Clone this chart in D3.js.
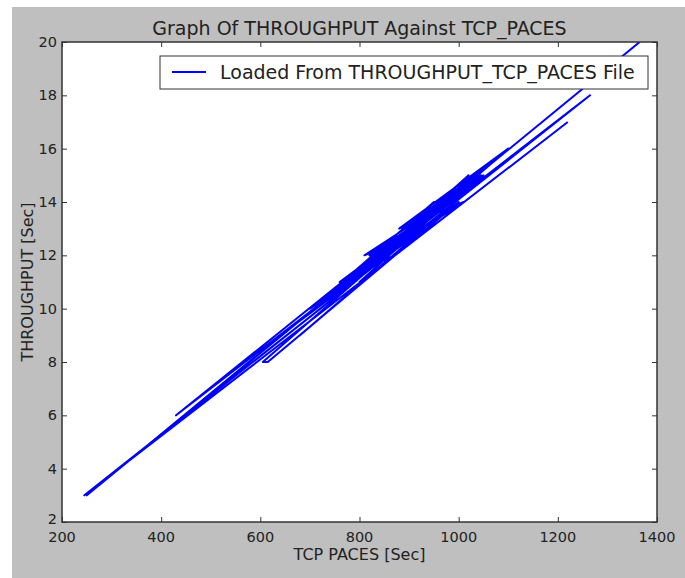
<!DOCTYPE html>
<html>
<head>
<meta charset="utf-8">
<script src="https://cdn.jsdelivr.net/npm/d3@7"></script>
<style>
  body { margin: 0; background: #fff; }
  text { font-family: "DejaVu Sans", sans-serif; fill: #222; }
</style>
</head>
<body>
<div id="chart"></div>
<script>
// Values (throughput vs tcp paces, plotted in file order).
var tcpPaces = [1220, 245, 1265, 430, 1100, 605, 615, 1000, 640, 930, 680, 870, 760,
                1050, 700, 850, 780, 980, 820, 960, 790, 1020, 840, 920, 800, 1040,
                765, 950, 855, 1030, 900, 985, 775, 1045, 830, 975, 810, 935, 845,
                1010, 880, 1100, 250, 1365];
var throughput = [17, 3, 18, 6, 16, 8, 8, 14, 9, 13, 9, 12, 11,
                  15, 10, 12, 11, 14, 12, 14, 11, 15, 12, 13, 11, 15,
                  11, 14, 12, 15, 13, 14, 11, 15, 12, 14, 12, 13, 12,
                  14, 13, 16, 3, 20];
var xTicks = [200, 400, 600, 800, 1000, 1200, 1400];
var yTicks = [2, 4, 6, 8, 10, 12, 14, 16, 18, 20];
var legendLabel = 'Loaded From THROUGHPUT_TCP_PACES File';

function main() {
  var width = 685, height = 578;
  var margin = {left: 62, right: 28, top: 42, bottom: 56};
  var plotW = width - margin.left - margin.right;
  var plotH = height - margin.top - margin.bottom;

  var svg = d3.select('#chart').append('svg')
    .attr('width', width)
    .attr('height', height);

  // gray figure background
  svg.append('rect')
    .attr('x', 12).attr('y', 7)
    .attr('width', width - 12).attr('height', height - 7)
    .attr('fill', '#bfbfbf');

  var x = d3.scaleLinear().domain([200, 1400]).range([0, plotW]);
  var y = d3.scaleLinear().domain([2, 20]).range([plotH, 0]);

  var g = svg.append('g')
    .attr('transform', 'translate(' + margin.left + ',' + margin.top + ')');

  g.append('rect')
    .attr('width', plotW).attr('height', plotH)
    .attr('fill', '#fff');

  g.append('clipPath').attr('id', 'clip')
    .append('rect').attr('width', plotW).attr('height', plotH);

  var points = tcpPaces.map(function(v, i) { return [v, throughput[i]]; });
  var line = d3.line()
    .x(function(d) { return x(d[0]); })
    .y(function(d) { return y(d[1]); });

  g.append('path')
    .datum(points)
    .attr('clip-path', 'url(#clip)')
    .attr('d', line)
    .attr('fill', 'none')
    .attr('stroke', '#0000ff')
    .attr('stroke-width', 2)
    .attr('stroke-linejoin', 'round');

  // inward ticks on all four sides, matplotlib classic style
  var tickLen = 5;
  g.append('g')
    .attr('transform', 'translate(0,' + plotH + ')')
    .call(d3.axisTop(x).tickValues(xTicks).tickSize(tickLen).tickFormat(''))
    .call(function(s) { s.select('.domain').remove(); });
  g.append('g')
    .call(d3.axisBottom(x).tickValues(xTicks).tickSize(tickLen).tickFormat(''))
    .call(function(s) { s.select('.domain').remove(); });
  g.append('g')
    .call(d3.axisRight(y).tickValues(yTicks).tickSize(tickLen).tickFormat(''))
    .call(function(s) { s.select('.domain').remove(); });
  g.append('g')
    .attr('transform', 'translate(' + plotW + ',0)')
    .call(d3.axisLeft(y).tickValues(yTicks).tickSize(tickLen).tickFormat(''))
    .call(function(s) { s.select('.domain').remove(); });
  g.selectAll('.tick line').attr('stroke', '#333');

  // tick labels
  g.append('g').selectAll('text')
    .data(xTicks).enter().append('text')
    .attr('x', function(d) { return x(d); })
    .attr('y', plotH + 20)
    .attr('text-anchor', 'middle')
    .style('font-size', '14.5px')
    .text(function(d) { return d; });
  g.append('g').selectAll('text')
    .data(yTicks).enter().append('text')
    .attr('x', -5)
    .attr('y', function(d) { return y(d) + (d === 2 ? 2 : 5); })
    .attr('text-anchor', 'end')
    .style('font-size', '14.5px')
    .text(function(d) { return d; });

  // frame
  g.append('rect')
    .attr('width', plotW).attr('height', plotH)
    .attr('fill', 'none')
    .attr('stroke', '#333')
    .attr('stroke-width', 1.5);

  // titles
  svg.append('text')
    .attr('x', margin.left + plotW / 2)
    .attr('y', 35)
    .attr('text-anchor', 'middle')
    .style('font-size', '19px')
    .text('Graph Of THROUGHPUT Against TCP_PACES');
  svg.append('text')
    .attr('x', margin.left + plotW / 2)
    .attr('y', 560)
    .attr('text-anchor', 'middle')
    .style('font-size', '16px')
    .text('TCP PACES [Sec]');
  svg.append('text')
    .attr('transform', 'translate(33,' + (margin.top + plotH / 2) + ') rotate(-90)')
    .attr('text-anchor', 'middle')
    .style('font-size', '16px')
    .text('THROUGHPUT [Sec]');

  // legend
  var leg = svg.append('g').attr('transform', 'translate(160,56)');
  leg.append('rect')
    .attr('width', 488).attr('height', 33)
    .attr('fill', '#fff')
    .attr('stroke', '#333')
    .attr('stroke-width', 1);
  leg.append('line')
    .attr('x1', 12).attr('x2', 46)
    .attr('y1', 16).attr('y2', 16)
    .attr('stroke', '#0000ff')
    .attr('stroke-width', 2);
  leg.append('text')
    .attr('x', 60).attr('y', 23)
    .style('font-size', '19px')
    .text(legendLabel);
}
main();
</script>
</body>
</html>
